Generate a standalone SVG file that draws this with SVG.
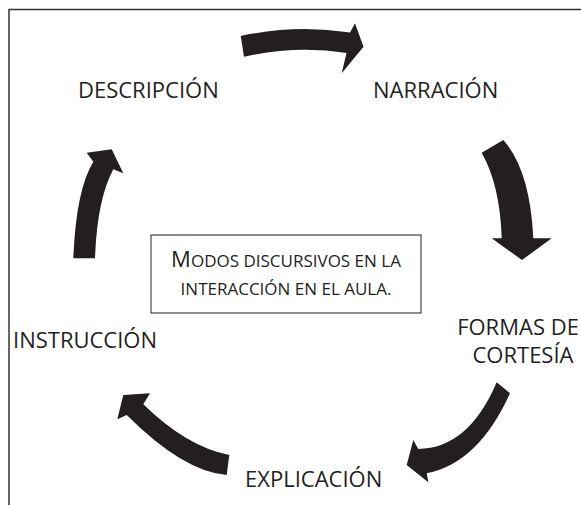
<svg xmlns="http://www.w3.org/2000/svg" width="581" height="505" viewBox="0 0 581 505">
<style>
  .lbl { font-family: "Open Sans", "Liberation Sans", sans-serif; font-size: 22px; fill: #231f20; }
  .sc { font-family: "Open Sans", "Liberation Sans", sans-serif; font-size: 17px; fill: #231f20; }
  .arrow { fill: #231f20; stroke: none; }
  .frame { fill: none; stroke: #333333; stroke-width: 1.5; }
</style>
<rect x="0" y="0" width="581" height="505" fill="#ffffff"/>
<path class="frame" d="M 9 505 L 9 9.5 L 581 9.5"/>

<g id="connectors">
  <path class="arrow" d="M 240.7,36 Q 296,24 350,32.5 L 355,23.3 L 363.5,46.7 L 341.7,73.3 L 346.5,53 Q 296,45 244,56.7 Z"/>
  <path class="arrow" d="M 481.7,152.7 L 503.3,140 Q 530,170 533.3,238.3 L 551.7,238.3 L 522,260 L 491.7,238.3 L 501.7,238.3 Q 500,185 481.7,152.7 Z"/>
  <path class="arrow" d="M 496.7,382.3 L 510,393.3 Q 478.3,463.3 426.7,473.3 L 428.3,482.3 L 406.7,465 L 413.3,440 L 418.3,449 Q 468.5,448.3 496.7,382.3 Z"/>
  <path class="arrow" d="M 123.3,395 L 150,393.3 L 143.3,404.3 Q 187,447 229.3,455 L 226.7,475 Q 183.3,471.6 126.7,415 L 117.3,419.3 Z"/>
  <path class="arrow" d="M 73.3,258.3 L 95,258.3 Q 97,200 113.3,169.3 L 123.3,173.3 L 111.7,149.3 L 86.7,152.7 L 93.3,161.7 Q 76,190 73.3,258.3 Z"/>
</g>

<g id="center">
  <rect x="151" y="235" width="270" height="78" fill="none" stroke="#231f20" stroke-width="1"/>
  <text class="sc" x="286" y="267" text-anchor="middle"><tspan font-size="22">M</tspan>ODOS DISCURSIVOS EN LA</text>
  <text class="sc" x="286" y="295" text-anchor="middle">INTERACCIÓN EN EL AULA.</text>
</g>

<g id="descripcion">
  <text class="lbl" x="78" y="98">DESCRIPCIÓN</text>
</g>
<g id="narracion">
  <text class="lbl" x="373" y="98">NARRACIÓN</text>
</g>
<g id="formas">
  <text class="lbl" x="518" y="335" text-anchor="middle">FORMAS DE</text>
  <text class="lbl" x="523" y="363" text-anchor="middle">CORTESÍA</text>
</g>
<g id="explicacion">
  <text class="lbl" x="245" y="487">EXPLICACIÓN</text>
</g>
<g id="instruccion">
  <text class="lbl" x="13" y="348">INSTRUCCIÓN</text>
</g>
</svg>
